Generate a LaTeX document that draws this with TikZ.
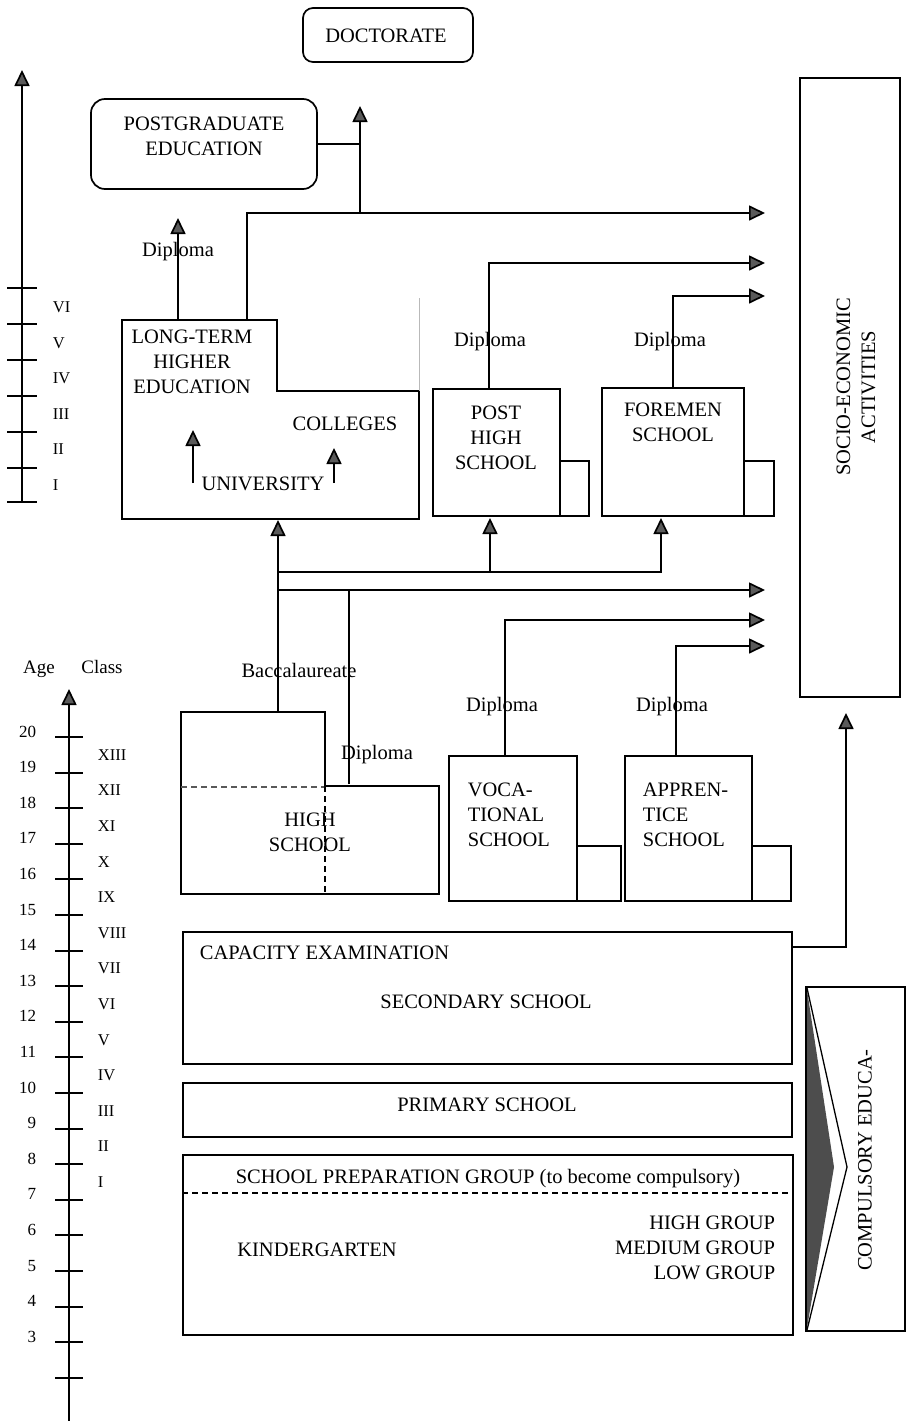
\documentclass[tikz,border=0pt]{standalone}
\usepackage{fontspec}
\setmainfont{Liberation Serif}
\usetikzlibrary{arrows.meta,fit}
\definecolor{tipgray}{HTML}{5A5A5A}
\definecolor{chevgray}{HTML}{4D4D4D}
\begin{document}
\begin{tikzpicture}[x=1pt,y=-1pt,line width=1.7pt,
  bx/.style={draw, inner sep=0pt, line width=1.7pt},
  lbl/.style={inner sep=0pt, font=\fontsize{20.5}{25}\selectfont, align=center},
  agelbl/.style={inner sep=0pt, font=\fontsize{17}{19}\selectfont},
  romlbl/.style={inner sep=0pt, font=\fontsize{16.5}{19}\selectfont},
  arr/.style={-{Triangle[length=16pt,width=15pt,fill=tipgray]}},
  dashln/.style={dashed, line width=1.1pt, dash pattern=on 6pt off 4pt}
]
\useasboundingbox (0,0) rectangle (908,1421);

% ---------- boxes ----------
\node[bx, rounded corners=10pt, fit={(303,8) (473,62)}] (doct) {};
\node[bx, rounded corners=14pt, fit={(91,99) (317,189)}] (pg) {};
\node[bx, fit={(800,78) (900,697)}] (soc) {};
\node[bx, fit={(433,389) (560,516)}] (phs) {};
\node[bx, fit={(560,461) (589,516)}] (phsx) {};
\node[bx, fit={(602,388) (744,516)}] (fms) {};
\node[bx, fit={(744,461) (774,516)}] (fmsx) {};
\node[bx, fit={(449,756) (577,901)}] (voc) {};
\node[bx, fit={(577,846) (621,901)}] (vocx) {};
\node[bx, fit={(625,756) (752,901)}] (app) {};
\node[bx, fit={(752,846) (791,901)}] (appx) {};
\node[bx, fit={(183,932) (792,1064)}] (sec) {};
\node[bx, fit={(183,1083) (792,1137)}] (pri) {};
\node[bx, fit={(183,1155) (793,1335)}] (kin) {};
\node[bx, fit={(806,987) (905,1331)}] (comp) {};

% long-term higher education outline
\draw (122,320) -- (277,320) -- (277,391) -- (419,391) -- (419,519) -- (122,519) -- cycle;
\draw[gray!55, line width=0.8pt] (419,298) -- (419,391);
% high school outline
\draw (181,712) -- (325,712) -- (325,786) -- (439,786) -- (439,894) -- (181,894) -- cycle;
\draw[dashln, gray!70!black] (181,787) -- (325,787);
\draw[dashln] (325,786) -- (325,894);
% kindergarten dashed separator
\draw[dashln] (kin.west |- 0,1193) -- (kin.east |- 0,1193);

% compulsory chevron
\fill[chevgray] (807,990) -- (834,1167) -- (807,1328) -- cycle;
\draw[line width=1.3pt] (807,988) -- (847,1167) -- (807,1330);

% ---------- coordinates for connectors ----------
\coordinate (ltA) at (178,320); \coordinate (ltAt) at (178,218);
\coordinate (ltB) at (247,320); \coordinate (jB) at (247,213); \coordinate (socA) at (765,213);
\coordinate (jD) at (360,213); \coordinate (doctIn) at (360,106);
\coordinate (pgOut) at (360,144);
\coordinate (phsO) at (489,389); \coordinate (phsJ) at (489,263); \coordinate (socB) at (765,263);
\coordinate (fmsO) at (673,388); \coordinate (fmsJ) at (673,296); \coordinate (socC) at (765,296);
\coordinate (hsA) at (278,712); \coordinate (ltIn) at (278,520);
\coordinate (j572) at (278,572); \coordinate (j590) at (278,590);
\coordinate (k572a) at (490,572); \coordinate (phsIn) at (490,518);
\coordinate (k572b) at (661,572); \coordinate (fmsIn) at (661,518);
\coordinate (socD) at (765,590);
\coordinate (hsB) at (349,784); \coordinate (k590) at (349,590);
\coordinate (vocO) at (505,756); \coordinate (vocJ) at (505,620); \coordinate (socE) at (765,620);
\coordinate (appO) at (676,756); \coordinate (appJ) at (676,646); \coordinate (socF) at (765,646);
\coordinate (secO) at (792,947); \coordinate (secJ) at (846,947); \coordinate (socIn) at (846,713);
\coordinate (uA) at (193,483); \coordinate (uAt) at (193,430);
\coordinate (cA) at (334,483); \coordinate (cAt) at (334,448);

% ---------- connectors ----------
\draw[arr] (ltA) -- (ltAt);
\draw[arr] (ltB) -- (jB) -- (socA);
\draw[arr] (jD) -- (doctIn);
\draw (pg.east) -- (pgOut);
\draw[arr] (phsO) -- (phsJ) -- (socB);
\draw[arr] (fmsO) -- (fmsJ) -- (socC);
\draw[arr] (hsA) -- (ltIn);
\draw[arr] (j572) -- (k572b) -- (fmsIn);
\draw[arr] (k572a) -- (phsIn);
\draw[arr] (j590) -- (socD);
\draw (hsB) -- (k590);
\draw[arr] (vocO) -- (vocJ) -- (socE);
\draw[arr] (appO) -- (appJ) -- (socF);
\draw[arr] (secO) -- (secJ) -- (socIn);
\draw[arr] (uA) -- (uAt);
\draw[arr] (cA) -- (cAt);

% ---------- texts ----------
\node[lbl, anchor=base] (tDoct) at (386,43) {DOCTORATE};
\node[lbl] (tPg) at (204,136) {POSTGRADUATE\\EDUCATION};
\node[lbl] (tLt) at (192,362) {LONG-TERM\\HIGHER\\EDUCATION};
\node[lbl, anchor=base] (tCol) at (345,430) {COLLEGES};
\node[lbl, anchor=base] (tUni) at (263,490) {UNIVERSITY};
\node[lbl] (tPhs) at (496,438) {POST\\HIGH\\SCHOOL};
\node[lbl] (tFms) at (673,422) {FOREMEN\\SCHOOL};
\node[lbl, rotate=90] (tSoc) at (856,387) {SOCIO-ECONOMIC\\ACTIVITIES};
\node[lbl, anchor=base] (dip1) at (178,256) {Diploma};
\node[lbl, anchor=base] (dip2) at (490,346) {Diploma};
\node[lbl, anchor=base] (dip3) at (670,346) {Diploma};
\node[lbl, anchor=base] (bac) at (299,677) {Baccalaureate};
\node[lbl, anchor=base] (dip4) at (377,759) {Diploma};
\node[lbl, anchor=base] (dip5) at (502,711) {Diploma};
\node[lbl, anchor=base] (dip6) at (672,711) {Diploma};
\node[lbl] (tHs) at (310,832) {HIGH\\SCHOOL};
\node[lbl, anchor=west, align=left] (tVoc) at (467,815) {VOCA-\\TIONAL\\SCHOOL};
\node[lbl, anchor=west, align=left] (tApp) at (642,815) {APPREN-\\TICE\\SCHOOL};
\node[lbl, anchor=base west] (tCap) at (199,959) {CAPACITY EXAMINATION};
\node[lbl, anchor=base] (tSec) at (486,1008) {SECONDARY SCHOOL};
\node[lbl, anchor=base] (tPri) at (487,1111) {PRIMARY SCHOOL};
\node[lbl, anchor=base] (tPrep) at (488,1183) {SCHOOL PREPARATION GROUP (to become compulsory)};
\node[lbl, anchor=base] (tKin) at (317,1256) {KINDERGARTEN};
\node[lbl, anchor=east, align=right] (tGrp) at (776,1248) {HIGH GROUP\\MEDIUM GROUP\\LOW GROUP};
\node[lbl, rotate=90] (tComp) at (865,1160) {COMPULSORY EDUCA-};

% ---------- upper axis ----------
\coordinate (ax1b) at (22,502); \coordinate (ax1t) at (22,70);
\draw[arr] (ax1b) -- (ax1t);
\foreach \yy in {288,324,360,396,432,468,502} { \draw (7,\yy) -- (37,\yy); }
\foreach \r/\yy in {VI/307,V/343,IV/378,III/414,II/449,I/485} {
  \node[romlbl, anchor=base west] (up\r) at (52,\yy+5.5) {\r};
}

% ---------- lower axis ----------
\node[inner sep=0pt, font=\fontsize{19}{22}\selectfont, anchor=base] (tAge) at (39,673) {Age};
\node[inner sep=0pt, font=\fontsize{19}{22}\selectfont, anchor=base] (tClass) at (102,673) {Class};
\coordinate (ax2b) at (69,1421); \coordinate (ax2t) at (69,689);
\draw[arr] (ax2b) -- (ax2t);
\foreach \a in {2,...,20} {
  \pgfmathsetmacro\yy{round(737+(20-\a)*35.6)}
  \draw (55,\yy) -- (83,\yy);
}
\foreach \a in {3,...,20} {
  \pgfmathsetmacro\yy{737+(20-\a)*35.6+0}
  \node[agelbl, anchor=base east] (age\a) at (37,\yy) {\a};
}
\foreach \c/\r in {13/XIII,12/XII,11/XI,10/X,9/IX,8/VIII,7/VII,6/VI,5/V,4/IV,3/III,2/II,1/I} {
  \pgfmathsetmacro\yy{737+(13-\c)*35.6+17.8+5.5}
  \node[romlbl, anchor=base west] (cl\c) at (97,\yy) {\r};
}
\end{tikzpicture}
\end{document}
